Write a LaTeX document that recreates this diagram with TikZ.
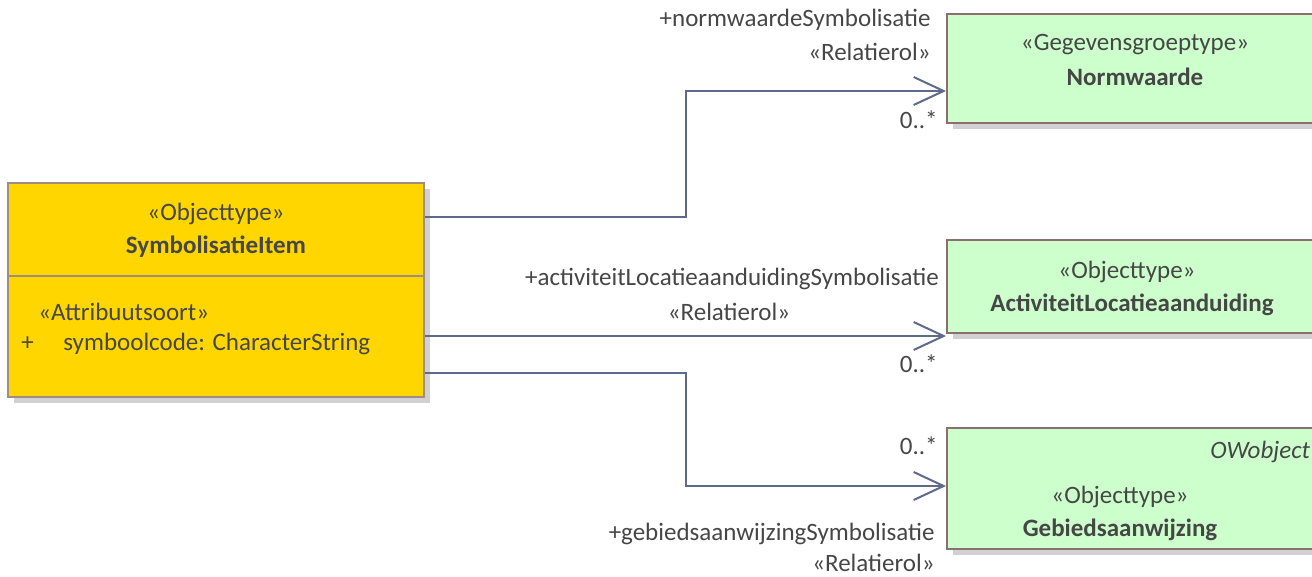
\documentclass[tikz,border=0pt]{standalone}
\usepackage{fontspec}
\setmainfont{Carlito}
\usetikzlibrary{arrows.meta, shadows}
\definecolor{itemYellow}{RGB}{255, 214, 0}
\definecolor{itemBorder}{RGB}{160, 140, 130}
\definecolor{typeGreen}{RGB}{204, 255, 204}
\definecolor{typeBorder}{RGB}{140, 110, 110}
\definecolor{assocBlue}{RGB}{95, 105, 140}
\definecolor{labelGray}{RGB}{70, 70, 70}
\tikzset{
    % Class boxes
    classbox/.style={
        rectangle,
        inner sep=0pt,
        line width=1pt,
        drop shadow={shadow xshift=3pt, shadow yshift=-3pt, fill=gray!60, opacity=0.6}
    },
    itembox/.style={classbox, fill=itemYellow, draw=itemBorder},
    typebox/.style={classbox, fill=typeGreen, draw=typeBorder},
    % Texts
    boxtext/.style={inner sep=0pt, font=\fontsize{12.5}{15}\selectfont, text=labelGray},
    boxname/.style={boxtext, font=\fontsize{12.5}{15}\selectfont\bfseries},
    rolelabel/.style={boxtext},
    % Associations
    assoc/.style={-{Straight Barb[length=15pt, width=14pt]}, line width=1pt, draw=assocBlue}
}
\begin{document}
\begin{tikzpicture}[x=0.5pt, y=-0.5pt]
    \useasboundingbox (0,0) rectangle (1312,577);

    % --- Source class ---
    \node (item) [itembox, minimum width=208pt, minimum height=107pt] at (216,290) {};
    \draw [itemBorder, line width=1pt] (item.west |- 0,276) -- (item.east |- 0,276);
    \node (itemStereo) [boxtext] at (216,214) {«Objecttype»};
    \node (itemName) [boxname] at (216,247) {SymbolisatieItem};
    \node (attrStereo) [boxtext, anchor=west] at (38,312) {«Attribuutsoort»};
    \node (attrVis) [boxtext, anchor=west] at (21,344) {+};
    \node (attrName) [boxtext, anchor=west] at (63,344) {symboolcode: CharacterString};

    % --- Target classes ---
    \node (norm) [typebox, minimum width=188pt, minimum height=54.5pt] at (1135,68.5) {};
    \node (normStereo) [boxtext] at (1135,45) {«Gegevensgroeptype»};
    \node (normName) [boxname] at (1135,77) {Normwaarde};

    \node (act) [typebox, minimum width=188pt, minimum height=46.5pt] at (1135,286.5) {};
    \node (actStereo) [boxtext] at (1127,272) {«Objecttype»};
    \node (actName) [boxname] at (1132,305) {ActiviteitLocatieaanduiding};

    \node (gebied) [typebox, minimum width=188pt, minimum height=60.5pt] at (1135,488.5) {};
    \node (gebiedTag) [boxtext, font=\fontsize{12.5}{15}\selectfont\itshape, anchor=west] at (1210,452) {OWobject};
    \node (gebiedStereo) [boxtext] at (1120,497) {«Objecttype»};
    \node (gebiedName) [boxname] at (1120,530) {Gebiedsaanwijzing};

    % --- Associations ---
    \draw [assoc] (item.east |- 0,217) -- (686,217) -- (686,91) -- (norm.west |- 0,91);
    \draw [assoc] (item.east |- 0,336) -- (act.west |- 0,336);
    \draw [assoc] (item.east |- 0,373) -- (686,373) -- (686,486) -- (gebied.west |- 0,486);

    % --- Role labels ---
    \node (normRole) [rolelabel, anchor=east] at (931,20) {+normwaardeSymbolisatie};
    \node (normRel) [rolelabel, anchor=east] at (931,52) {«Relatierol»};
    \node (normMult) [rolelabel, anchor=east] at (938,120) {0..*};

    \node (actRole) [rolelabel] at (732,279) {+activiteitLocatieaanduidingSymbolisatie};
    \node (actRel) [rolelabel] at (729,312) {«Relatierol»};
    \node (actMult) [rolelabel, anchor=east] at (938,364) {0..*};

    \node (gebiedMult) [rolelabel, anchor=east] at (938,446) {0..*};
    \node (gebiedRole) [rolelabel, anchor=east] at (935,534) {+gebiedsaanwijzingSymbolisatie};
    \node (gebiedRel) [rolelabel, anchor=east] at (935,563) {«Relatierol»};
\end{tikzpicture}
\end{document}
